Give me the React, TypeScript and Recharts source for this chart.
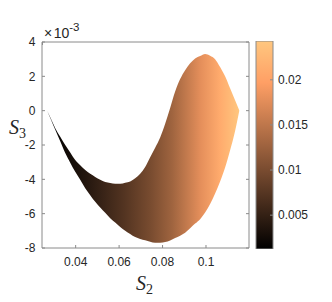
import { ComposedChart, Area, XAxis, YAxis, BarChart, Bar } from "recharts";

// S2 samples along the surface and the S3 envelope (in units of 1e-3)
const S2 = [
  0.0269, 0.0287, 0.0306, 0.0329, 0.0352, 0.0375, 0.0398, 0.0421, 0.0444, 0.0467,
  0.049, 0.0513, 0.0536, 0.0559, 0.0582, 0.0605, 0.0628, 0.0651, 0.0674, 0.0697,
  0.072, 0.0743, 0.0766, 0.0789, 0.0812, 0.0835, 0.0858, 0.0881, 0.0904, 0.0927,
  0.095, 0.0973, 0.0996, 0.1019, 0.1042, 0.1065, 0.1088, 0.1111, 0.1134, 0.1153,
];
const S3_UPPER = [
  0.0, -0.5, -1.02, -1.52, -2.0, -2.44, -2.88, -3.18, -3.46, -3.68,
  -3.86, -4.02, -4.16, -4.22, -4.26, -4.26, -4.2, -4.12, -3.94, -3.68,
  -3.28, -2.72, -2.16, -1.56, -0.76, 0.16, 1.12, 1.84, 2.36, 2.76,
  3.04, 3.18, 3.3, 3.2, 3.0, 2.54, 2.0, 1.3, 0.6, 0.02,
];
const S3_LOWER = [
  0, -0.54, -1.11, -1.78, -2.47, -3.03, -3.56, -4.03, -4.52, -4.92,
  -5.31, -5.64, -5.95, -6.27, -6.52, -6.78, -6.99, -7.18, -7.36, -7.47,
  -7.55, -7.64, -7.7, -7.69, -7.65, -7.56, -7.42, -7.28, -7.11, -6.85,
  -6.58, -6.32, -5.93, -5.43, -4.82, -4.12, -3.31, -2.31, -1.18, -0.02,
];

const X_TICKS = [0.04, 0.06, 0.08, 0.1];
const Y_TICKS = [-8, -6, -4, -2, 0, 2, 4];
const CBAR_TICKS = [0.005, 0.01, 0.015, 0.02];
const CBAR_RANGE = [0.00125, 0.0243];

// shading across the surface: fraction of width -> colormap position
const SHADE_POS = [0, 0.1, 0.2, 0.28, 0.4, 0.54, 0.65, 0.8, 0.9, 1];
const SHADE_T = [0, 0.05, 0.11, 0.17, 0.26, 0.38, 0.5, 0.72, 0.86, 1];

const copper = (t: number) => {
  const r = Math.min(1, 1.25 * t);
  const g = 0.7812 * t;
  const b = 0.4975 * t;
  return `rgb(${Math.round(r * 255)},${Math.round(g * 255)},${Math.round(b * 255)})`;
};

const data = S2.map((s, i) => ({ s2: s, range: [S3_LOWER[i], S3_UPPER[i]] }));
const cbar = [{ name: "c", range: CBAR_RANGE }];

const AXIS = "#8a8a8a";
const TEXT = "#262626";
const SANS = "'Liberation Sans', Arial, sans-serif";
const SERIF = "'Liberation Serif', 'Times New Roman', serif";
const X_DOMAIN = [0.0245, 0.1198];
const TICK_LEN = 3;

// matlab-style ticks: short marks pointing into the box, label outside
const makeTick = (side: string, margin: number, label: boolean) => (props: any) => {
  const { x, y, payload } = props;
  const txt = label ? String(payload.value) : null;
  const common = { fill: TEXT, fontSize: 12, fontFamily: SANS };
  if (side === "bottom") {
    const ay = y - margin;
    return (
      <g>
        <line x1={x} x2={x} y1={ay} y2={ay - TICK_LEN} stroke={AXIS} />
        {txt && <text x={x} y={y} dy="0.71em" textAnchor="middle" {...common}>{txt}</text>}
      </g>
    );
  }
  if (side === "top") {
    const ay = y + margin;
    return <line x1={x} x2={x} y1={ay} y2={ay + TICK_LEN} stroke={AXIS} />;
  }
  if (side === "left") {
    const ax = x + margin;
    return (
      <g>
        <line x1={ax} x2={ax + TICK_LEN} y1={y} y2={y} stroke={AXIS} />
        {txt && <text x={x} y={y} dy="0.355em" textAnchor="end" {...common}>{txt}</text>}
      </g>
    );
  }
  const ax = x - margin;
  return (
    <g>
      <line x1={ax} x2={ax - TICK_LEN} y1={y} y2={y} stroke={AXIS} />
      {txt && <text x={x} y={y} dy="0.355em" textAnchor="start" {...common}>{txt}</text>}
    </g>
  );
};

export default function App() {
  return (
    <div style={{ position: "absolute", left: 0, top: 0, width: 332, height: 302, background: "#fff" }}>
      <div style={{ position: "absolute", left: 0, top: 0 }}>
        <ComposedChart width={332} height={302} data={data} margin={{ top: 41, right: 82, bottom: 24, left: 0 }}>
          <defs>
            <linearGradient id="surf" x1="0" y1="0" x2="1" y2="0">
              {SHADE_POS.map((p, i) => (
                <stop key={i} offset={p} stopColor={copper(SHADE_T[i])} />
              ))}
            </linearGradient>
          </defs>
          <Area
            xAxisId="b" yAxisId="l" dataKey="range" type="monotone" stroke="none"
            fill="url(#surf)" fillOpacity={1} dot={false} activeDot={false} isAnimationActive={false}
          />
          <XAxis
            xAxisId="b" type="number" dataKey="s2" domain={X_DOMAIN} ticks={X_TICKS} allowDataOverflow
            height={30} stroke={AXIS} tickLine={false} tickSize={0} tickMargin={9.5}
            tick={makeTick("bottom", 9.5, true)}
          />
          <XAxis
            xAxisId="t" orientation="top" type="number" domain={X_DOMAIN} ticks={X_TICKS} allowDataOverflow
            height={1} stroke={AXIS} tickLine={false} tickSize={0} tickMargin={0}
            tick={makeTick("top", 0, false)}
          />
          <YAxis
            yAxisId="l" type="number" domain={[-8, 4]} ticks={Y_TICKS} allowDataOverflow
            width={42} stroke={AXIS} tickLine={false} tickSize={0} tickMargin={6.5}
            tick={makeTick("left", 6.5, true)}
          />
          <YAxis
            yAxisId="r" orientation="right" type="number" domain={[-8, 4]} ticks={Y_TICKS} allowDataOverflow
            width={1} stroke={AXIS} tickLine={false} tickSize={0} tickMargin={0}
            tick={makeTick("right", 0, false)}
          />
        </ComposedChart>
      </div>
      <div style={{ position: "absolute", left: 0, top: 0 }}>
        <BarChart width={332} height={302} data={cbar} margin={{ top: 41, right: 58, bottom: 53, left: 256 }} barCategoryGap={0}>
          <defs>
            <linearGradient id="cmap" x1="0" y1="1" x2="0" y2="0">
              <stop offset={0} stopColor={copper(0)} />
              <stop offset={0.8} stopColor={copper(0.8)} />
              <stop offset={1} stopColor={copper(1)} />
            </linearGradient>
          </defs>
          <XAxis dataKey="name" hide />
          <Bar dataKey="range" fill="url(#cmap)" stroke={AXIS} strokeWidth={1} isAnimationActive={false} />
          <YAxis
            orientation="right" type="number" domain={CBAR_RANGE} ticks={CBAR_TICKS} allowDataOverflow
            width={1} axisLine={false} tickLine={false} tickSize={0} tickMargin={5}
            tick={makeTick("right", 5, true)}
          />
        </BarChart>
      </div>
      <svg width={332} height={302} style={{ position: "absolute", left: 0, top: 0, pointerEvents: "none" }}>
        <text x={44} y={38} fontSize={14} fill={TEXT} fontFamily={SANS}>
          {"\u00d7"}
          <tspan dx={1.5}>10</tspan>
          <tspan dy={-7} fontSize={11.5}>-3</tspan>
        </text>
        <text x={9} y={134} fontSize={20} fill={TEXT} fontFamily={SERIF} fontStyle="italic">
          S<tspan fontStyle="normal" fontSize={14} dy={4}>3</tspan>
        </text>
        <text x={136} y={290} fontSize={20} fill={TEXT} fontFamily={SERIF} fontStyle="italic">
          S<tspan fontStyle="normal" fontSize={14} dy={4}>2</tspan>
        </text>
      </svg>
    </div>
  );
}
